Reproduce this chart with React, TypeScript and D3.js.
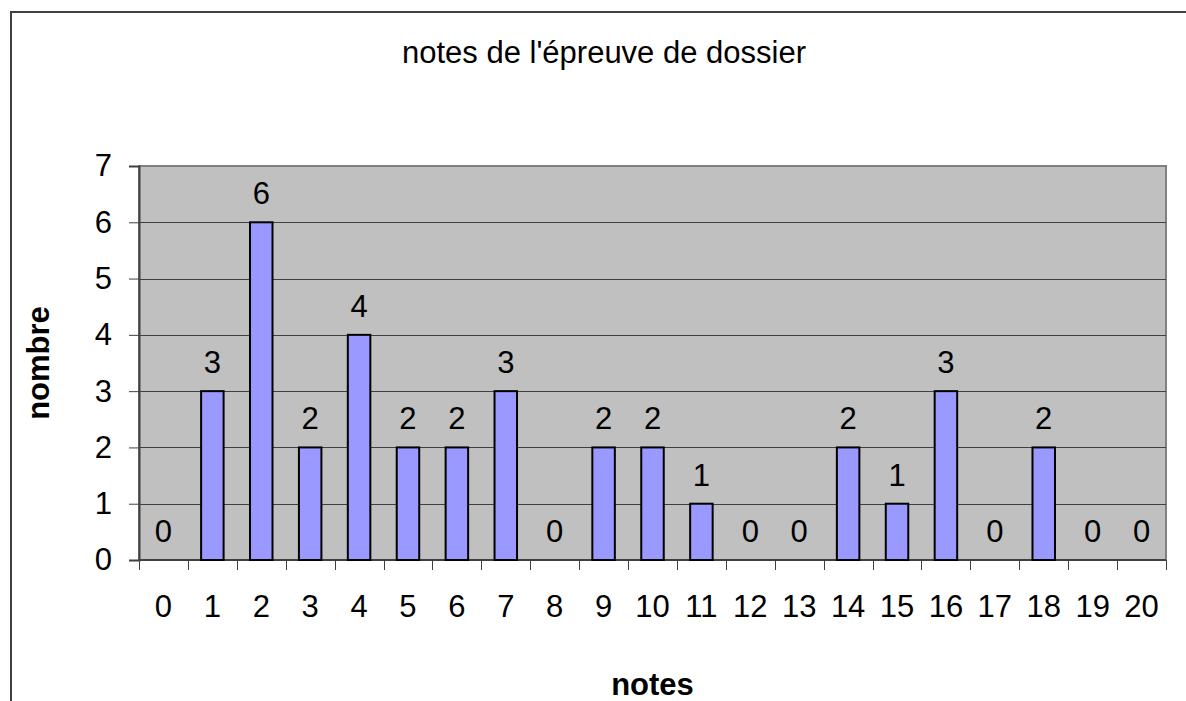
import React, { useRef, useEffect } from "react";
import * as d3 from "d3";

const notes = ["0", "1", "2", "3", "4", "5", "6", "7", "8", "9", "10", "11", "12", "13", "14", "15", "16", "17", "18", "19", "20"];
const counts = [0, 3, 6, 2, 4, 2, 2, 3, 0, 2, 2, 1, 0, 0, 2, 1, 3, 0, 2, 0, 0];
const yTicks = [0, 1, 2, 3, 4, 5, 6, 7];
const title = "notes de l'épreuve de dossier";
const xTitle = "notes";
const yTitle = "nombre";

const FONT = "'Liberation Sans', Arial, sans-serif";

const App = () => {
    const chartRef = useRef<SVGSVGElement>(null);

    useEffect(() => {
        drawChart();
    }, []);

    const drawChart = () => {
        if (!chartRef.current) return;
        const width = 1186;
        const height = 701;
        const plot = { left: 139, right: 1166, top: 166, bottom: 560 };

        const data = notes.map((n, i) => ({ note: n, count: counts[i] }));

        const svg = d3.select(chartRef.current);
        svg.selectAll("*").remove();

        svg.append("rect")
            .attr("width", width)
            .attr("height", height)
            .attr("fill", "#fff");

        // outer chart border (runs off the right and bottom)
        svg.append("rect")
            .attr("x", 11)
            .attr("y", 12)
            .attr("width", 1300)
            .attr("height", 900)
            .attr("fill", "none")
            .attr("stroke", "#404040")
            .attr("stroke-width", 2);

        const x = d3.scaleBand().domain(notes).range([plot.left, plot.right]).paddingInner(0).paddingOuter(0);
        const y = d3.scaleLinear().domain([0, 7]).range([plot.bottom, plot.top]);

        svg.append("rect")
            .attr("x", plot.left)
            .attr("y", plot.top)
            .attr("width", plot.right - plot.left)
            .attr("height", plot.bottom - plot.top)
            .attr("fill", "#c0c0c0")
            .attr("stroke", "#808080")
            .attr("stroke-width", 2);

        // gridlines
        svg.selectAll(".grid")
            .data(yTicks.filter((t) => t > 0 && t < 7))
            .enter()
            .append("line")
            .attr("x1", plot.left)
            .attr("x2", plot.right)
            .attr("y1", (d) => Math.round(y(d)) + 0.5)
            .attr("y2", (d) => Math.round(y(d)) + 0.5)
            .attr("stroke", "#404040")
            .attr("stroke-width", 1);

        // y axis
        const yAxis = svg.append("g")
            .attr("transform", `translate(${plot.left},0)`)
            .call(d3.axisLeft(y).tickValues(yTicks).tickSize(10).tickPadding(17).tickFormat(d3.format("d")));
        yAxis.select(".domain").attr("stroke", "#404040").attr("stroke-width", 2);
        yAxis.selectAll(".tick line").attr("stroke", "#404040");
        yAxis.selectAll(".tick text")
            .attr("font-family", FONT)
            .attr("font-size", 31)
            .attr("fill", "#000");

        // x axis baseline and ticks at category boundaries
        svg.append("line")
            .attr("x1", plot.left)
            .attr("x2", plot.right)
            .attr("y1", plot.bottom)
            .attr("y2", plot.bottom)
            .attr("stroke", "#404040")
            .attr("stroke-width", 2);
        const bounds = notes.map((n) => x(n)!).concat([plot.right]);
        svg.selectAll(".xtick")
            .data(bounds)
            .enter()
            .append("line")
            .attr("x1", (d) => Math.round(d) + 0.5)
            .attr("x2", (d) => Math.round(d) + 0.5)
            .attr("y1", plot.bottom)
            .attr("y2", plot.bottom + 10)
            .attr("stroke", "#404040");
        svg.selectAll(".xlabel")
            .data(notes)
            .enter()
            .append("text")
            .attr("x", (d) => x(d)! + x.bandwidth() / 2)
            .attr("y", 617)
            .attr("text-anchor", "middle")
            .attr("font-family", FONT)
            .attr("font-size", 31)
            .text((d) => d);

        // bars
        const bw = x.bandwidth() * 0.46;
        svg.selectAll(".bar")
            .data(data.filter((d) => d.count > 0))
            .enter()
            .append("rect")
            .attr("x", (d) => x(d.note)! + (x.bandwidth() - bw) / 2)
            .attr("y", (d) => y(d.count))
            .attr("width", bw)
            .attr("height", (d) => y(0) - y(d.count))
            .attr("fill", "#9999ff")
            .attr("stroke", "#000")
            .attr("stroke-width", 2);

        // data labels
        svg.selectAll(".val")
            .data(data)
            .enter()
            .append("text")
            .attr("x", (d) => x(d.note)! + x.bandwidth() / 2)
            .attr("y", (d) => y(d.count) - 18)
            .attr("text-anchor", "middle")
            .attr("font-family", FONT)
            .attr("font-size", 31)
            .text((d) => d.count);

        svg.append("text")
            .attr("x", 604)
            .attr("y", 63)
            .attr("text-anchor", "middle")
            .attr("font-family", FONT)
            .attr("font-size", 31)
            .text(title);

        svg.append("text")
            .attr("x", (plot.left + plot.right) / 2)
            .attr("y", 695)
            .attr("text-anchor", "middle")
            .attr("font-family", FONT)
            .attr("font-size", 31)
            .attr("font-weight", "bold")
            .text(xTitle);

        svg.append("text")
            .attr("transform", `translate(49,${(plot.top + plot.bottom) / 2}) rotate(-90)`)
            .attr("text-anchor", "middle")
            .attr("font-family", FONT)
            .attr("font-size", 31)
            .attr("font-weight", "bold")
            .text(yTitle);
    };

    return (
        <div style={{ position: "absolute", left: 0, top: 0 }}>
            <svg ref={chartRef} width={1186} height={701} style={{ display: "block" }}></svg>
        </div>
    );
};

export default App;
